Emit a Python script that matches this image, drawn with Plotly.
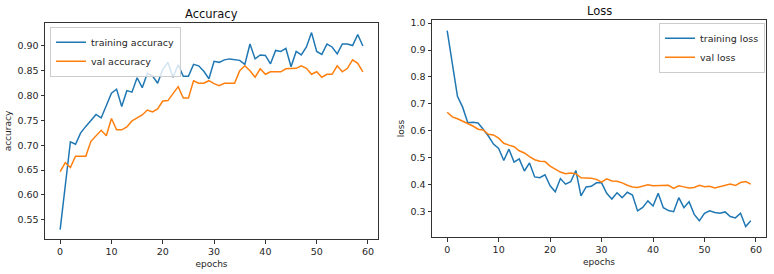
import plotly.graph_objects as go

epochs = list(range(60))

train_acc = [0.530, 0.615, 0.707, 0.702, 0.725, 0.738, 0.749, 0.762, 0.755, 0.782,
             0.805, 0.813, 0.778, 0.810, 0.807, 0.836, 0.816, 0.845, 0.840, 0.825,
             0.853, 0.867, 0.837, 0.862, 0.839, 0.839, 0.863, 0.860, 0.849, 0.834,
             0.869, 0.867, 0.872, 0.874, 0.873, 0.871, 0.863, 0.904, 0.874, 0.882,
             0.881, 0.864, 0.891, 0.889, 0.895, 0.858, 0.889, 0.882, 0.898, 0.927,
             0.889, 0.883, 0.904, 0.898, 0.884, 0.904, 0.904, 0.901, 0.923, 0.900]
val_acc = [0.647, 0.665, 0.655, 0.678, 0.678, 0.678, 0.708, 0.720, 0.730, 0.719,
           0.754, 0.731, 0.731, 0.737, 0.749, 0.755, 0.761, 0.771, 0.767, 0.773,
           0.789, 0.790, 0.805, 0.818, 0.795, 0.795, 0.830, 0.825, 0.825, 0.830,
           0.824, 0.820, 0.825, 0.825, 0.825, 0.850, 0.860, 0.850, 0.837, 0.854,
           0.843, 0.848, 0.848, 0.848, 0.854, 0.854, 0.855, 0.860, 0.855, 0.843,
           0.848, 0.837, 0.843, 0.843, 0.860, 0.848, 0.855, 0.872, 0.865, 0.848]
train_loss = [0.972, 0.850, 0.728, 0.688, 0.630, 0.632, 0.629, 0.606, 0.581, 0.551,
              0.535, 0.490, 0.532, 0.484, 0.496, 0.451, 0.481, 0.429, 0.426, 0.437,
              0.396, 0.374, 0.423, 0.402, 0.411, 0.453, 0.359, 0.392, 0.394, 0.407,
              0.407, 0.368, 0.347, 0.370, 0.352, 0.372, 0.362, 0.303, 0.316, 0.340,
              0.321, 0.368, 0.315, 0.304, 0.300, 0.352, 0.315, 0.337, 0.290, 0.266,
              0.294, 0.303, 0.297, 0.294, 0.299, 0.282, 0.277, 0.294, 0.245, 0.266]
val_loss = [0.669, 0.652, 0.645, 0.636, 0.628, 0.618, 0.606, 0.603, 0.587, 0.585,
            0.573, 0.554, 0.547, 0.541, 0.526, 0.518, 0.504, 0.493, 0.487, 0.486,
            0.469, 0.457, 0.447, 0.441, 0.444, 0.441, 0.426, 0.425, 0.424, 0.420,
            0.410, 0.422, 0.414, 0.413, 0.407, 0.398, 0.392, 0.390, 0.396, 0.400,
            0.396, 0.396, 0.396, 0.398, 0.386, 0.396, 0.392, 0.388, 0.390, 0.398,
            0.393, 0.394, 0.388, 0.393, 0.397, 0.403, 0.397, 0.408, 0.412, 0.402]

acc_ticks = [0.55, 0.60, 0.65, 0.70, 0.75, 0.80, 0.85, 0.90]
loss_ticks = [0.3, 0.4, 0.5, 0.6, 0.7, 0.8, 0.9, 1.0]
epoch_ticks = [0, 10, 20, 30, 40, 50, 60]

BLUE = "#1f77b4"
ORANGE = "#ff7f0e"
FONT = "DejaVu Sans"
TXT = "#262626"
W, H = 774, 274

fig = go.Figure()
fig.add_trace(go.Scatter(x=epochs, y=train_acc, mode="lines", name="training accuracy",
                         line=dict(color=BLUE, width=1.5), xaxis="x", yaxis="y", legend="legend"))
fig.add_trace(go.Scatter(x=epochs, y=val_acc, mode="lines", name="val accuracy",
                         line=dict(color=ORANGE, width=1.5), xaxis="x", yaxis="y", legend="legend"))
fig.add_trace(go.Scatter(x=epochs, y=train_loss, mode="lines", name="training loss",
                         line=dict(color=BLUE, width=1.5), xaxis="x2", yaxis="y2", legend="legend2"))
fig.add_trace(go.Scatter(x=epochs, y=val_loss, mode="lines", name="val loss",
                         line=dict(color=ORANGE, width=1.5), xaxis="x2", yaxis="y2", legend="legend2"))

axis_common = dict(showline=True, mirror=True, linecolor="#333", linewidth=1,
                   ticks="outside", ticklen=3.5, tickwidth=1, tickcolor="#333",
                   showgrid=False, zeroline=False,
                   tickfont=dict(family=FONT, size=9.5, color=TXT),
                   title_font=dict(family=FONT, size=9, color=TXT))

def px_x(p):
    return p / W

def px_y(p):
    return 1 - p / H

fig.update_layout(
    width=W, height=H,
    margin=dict(l=0, r=0, t=0, b=0),
    paper_bgcolor="white", plot_bgcolor="white",
    font=dict(family=FONT, color=TXT),
    xaxis=dict(axis_common, domain=[px_x(45), px_x(378)], range=[-2.95, 61.95],
               tickvals=epoch_ticks, anchor="y", title=dict(text="epochs", standoff=4)),
    yaxis=dict(axis_common, domain=[px_y(239), px_y(21)], range=[0.5106, 0.9466],
               tickvals=acc_ticks, tickformat=".2f", anchor="x",
               title=dict(text="accuracy", standoff=4)),
    xaxis2=dict(axis_common, domain=[px_x(432), px_x(766)], range=[-2.95, 61.95],
                tickvals=epoch_ticks, anchor="y2", title=dict(text="epochs", standoff=4)),
    yaxis2=dict(axis_common, domain=[px_y(237), px_y(18)], range=[0.205, 1.012],
                tickvals=loss_ticks, tickformat=".1f", anchor="x2",
                title=dict(text="loss", standoff=4)),
    legend=dict(x=px_x(50), y=px_y(25), xanchor="left", yanchor="top",
                bgcolor="rgba(255,255,255,0.8)", bordercolor="#cccccc", borderwidth=1,
                font=dict(family=FONT, size=9.5, color=TXT), tracegroupgap=0,
                itemwidth=30),
    legend2=dict(x=px_x(765), y=px_y(21), xanchor="right", yanchor="top",
                 bgcolor="rgba(255,255,255,0.8)", bordercolor="#cccccc", borderwidth=1,
                 font=dict(family=FONT, size=9.5, color=TXT), tracegroupgap=0,
                 itemwidth=30),
    annotations=[
        dict(text="Accuracy", x=px_x(211.5), y=px_y(12), xref="paper", yref="paper",
             xanchor="center", yanchor="middle", showarrow=False,
             font=dict(family=FONT, size=11.5, color="#111")),
        dict(text="Loss", x=px_x(599), y=px_y(9), xref="paper", yref="paper",
             xanchor="center", yanchor="middle", showarrow=False,
             font=dict(family=FONT, size=11.5, color="#111")),
    ],
)

fig.write_html("out.html", config={"displayModeBar": False},
               post_script="document.body.style.margin='0';document.body.style.overflow='hidden';")
